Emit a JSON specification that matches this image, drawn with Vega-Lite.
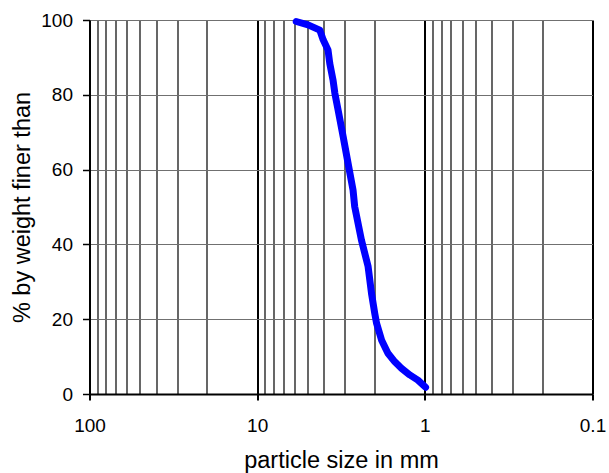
{
  "$schema": "https://vega.github.io/schema/vega-lite/v6.json",
  "width": 503,
  "height": 374,
  "autosize": "none",
  "padding": {"left": 89.5, "top": 20, "right": 16.5, "bottom": 79},
  "background": "white",
  "config": {"view": {"stroke": null}, "font": "Liberation Sans"},
  "data": {
    "values": [
      {"size": 5.85, "pct": 99.6},
      {"size": 4.97, "pct": 98.7},
      {"size": 4.23, "pct": 97.3},
      {"size": 4.04, "pct": 94.7},
      {"size": 3.78, "pct": 92.0},
      {"size": 3.69, "pct": 88.4},
      {"size": 3.53, "pct": 84.0},
      {"size": 3.44, "pct": 80.4},
      {"size": 3.29, "pct": 75.9},
      {"size": 3.07, "pct": 68.8},
      {"size": 2.87, "pct": 61.7},
      {"size": 2.68, "pct": 54.5},
      {"size": 2.62, "pct": 50.1},
      {"size": 2.39, "pct": 41.2},
      {"size": 2.18, "pct": 34.1},
      {"size": 2.08, "pct": 26.9},
      {"size": 1.99, "pct": 21.6},
      {"size": 1.94, "pct": 18.9},
      {"size": 1.81, "pct": 14.4},
      {"size": 1.66, "pct": 10.9},
      {"size": 1.51, "pct": 8.6},
      {"size": 1.38, "pct": 6.9},
      {"size": 1.23, "pct": 5.1},
      {"size": 1.10, "pct": 3.7},
      {"size": 0.99, "pct": 1.8}
    ]
  },
  "mark": {"type": "line", "color": "#0000FF", "strokeWidth": 7, "strokeCap": "round", "strokeJoin": "round"},
  "encoding": {
    "x": {
      "field": "size",
      "type": "quantitative",
      "scale": {"type": "log", "domain": [0.1, 100], "reverse": true, "nice": false},
      "axis": {
        "title": "particle size in mm",
        "values": [0.1, 0.2, 0.3, 0.4, 0.5, 0.6, 0.7, 0.8, 0.9, 1, 2, 3, 4, 5, 6, 7, 8, 9, 10, 20, 30, 40, 50, 60, 70, 80, 90, 100],
        "labelExpr": "abs(log(datum.value)/LN10 - round(log(datum.value)/LN10)) < 0.0001 ? format(datum.value, '~g') : ''",
        "labelOverlap": false,
        "labelFlush": false,
        "labelFontSize": 19,
        "labelColor": "black",
        "labelPadding": 16,
        "grid": true,
        "gridColor": "black",
        "gridOpacity": 1,
        "gridWidth": {"condition": {"test": "abs(log(datum.value)/LN10 - round(log(datum.value)/LN10)) < 0.0001", "value": 2}, "value": 1.2},
        "tickOpacity": {"condition": {"test": "abs(log(datum.value)/LN10 - round(log(datum.value)/LN10)) < 0.0001", "value": 1}, "value": 0},
        "tickColor": "black",
        "tickWidth": 2,
        "tickSize": 6,
        "domainColor": "black",
        "domainWidth": 2,
        "titleFontSize": 23.5,
        "titleFontWeight": "normal",
        "titleColor": "black",
        "titlePadding": 13
      }
    },
    "y": {
      "field": "pct",
      "type": "quantitative",
      "scale": {"domain": [0, 100], "nice": false},
      "axis": {
        "title": "% by weight finer than",
        "values": [0, 20, 40, 60, 80, 100],
        "labelFlush": false,
        "labelFontSize": 19,
        "labelColor": "black",
        "labelPadding": 10,
        "grid": true,
        "gridColor": "#707070",
        "gridOpacity": 1,
        "gridWidth": 1.2,
        "tickColor": "black",
        "tickWidth": 1.5,
        "tickSize": 7,
        "domainColor": "black",
        "domainWidth": 2,
        "titleFontSize": 23.5,
        "titleFontWeight": "normal",
        "titleColor": "black",
        "titlePadding": 6
      }
    }
  }
}
